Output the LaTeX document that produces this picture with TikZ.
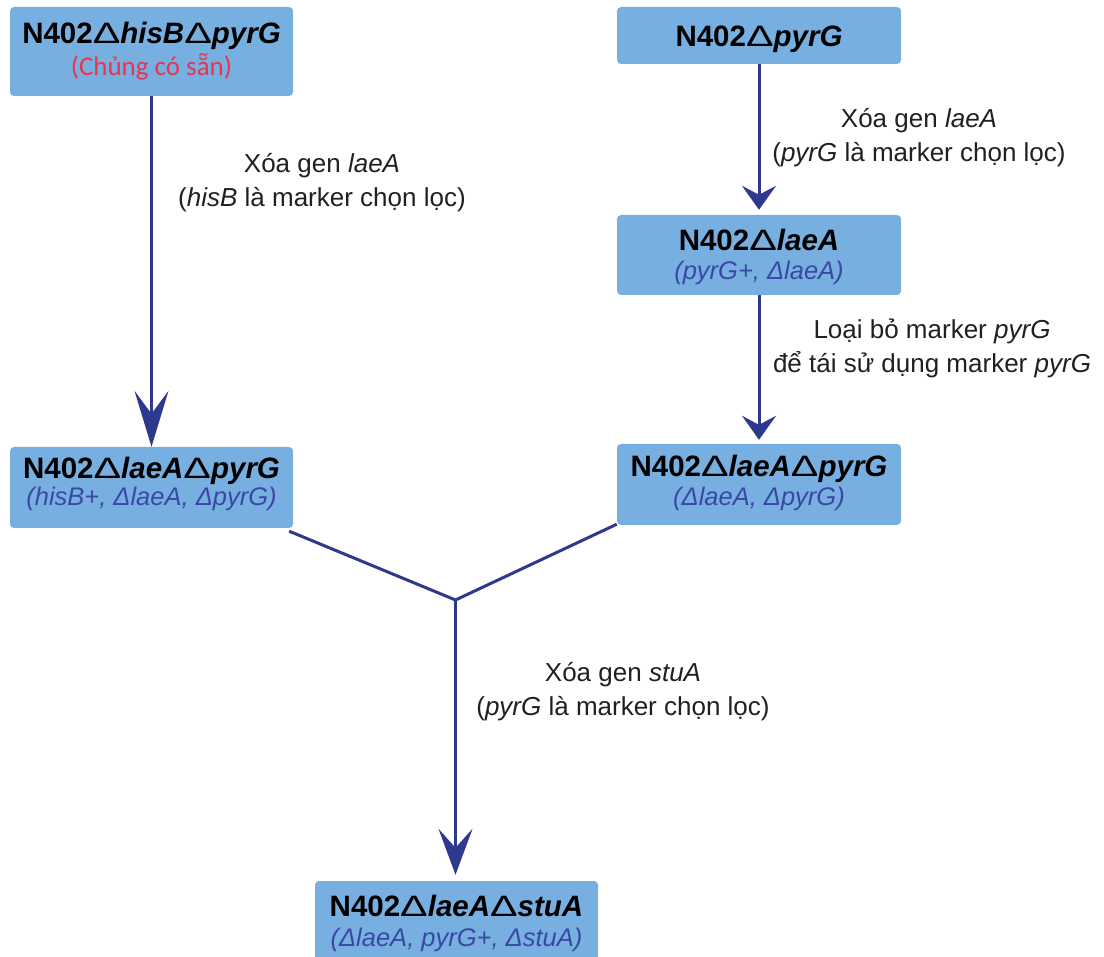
\documentclass[tikz,border=0pt]{standalone}
\usepackage{fontspec}
\usepackage{graphicx}
\setmainfont{Liberation Sans}
\newfontfamily\calfont{Carlito}
\usetikzlibrary{arrows.meta}
\definecolor{boxfill}{RGB}{120,175,225}
\definecolor{arrowblue}{RGB}{46,56,140}
\definecolor{subblue}{RGB}{58,72,165}
\definecolor{redtxt}{RGB}{232,52,78}
\definecolor{labeltxt}{RGB}{35,31,32}
\newcommand{\bigdelta}{{\mdseries\upshape\scalebox{1.4}[1]{Δ}}}
\begin{document}
\begin{tikzpicture}[x=1pt,y=-1pt,
  strainbox/.style={fill=boxfill, rounded corners=4pt, inner sep=0pt, draw=none},
  titletext/.style={font=\fontsize{29.5}{33}\selectfont\bfseries, anchor=base, inner sep=0pt, text=black},
  subtext/.style={font=\fontsize{25.5}{29}\selectfont\itshape, anchor=base, inner sep=0pt, text=subblue},
  redsub/.style={font=\fontsize{27}{30}\selectfont\calfont, anchor=base, inner sep=0pt, text=redtxt},
  steplabel/.style={font=\fontsize{26}{34}\selectfont, align=center, text=labeltxt, inner sep=0pt},
  conn/.style={draw=arrowblue, line width=3pt},
  bighead/.style={-{Stealth[length=56pt,width=34pt,inset=23pt]}},
  midhead/.style={-{Stealth[length=46pt,width=34pt,inset=19pt]}},
  smallhead/.style={-{Stealth[length=24pt,width=34pt,inset=9pt]}}
]
\useasboundingbox (0,0) rectangle (1104,957);
% boxes
\node[strainbox, minimum width=283pt, minimum height=89pt] (A) at (151.5,51.5) {};
\node[strainbox, minimum width=284pt, minimum height=57pt] (B) at (759,35.5) {};
\node[strainbox, minimum width=284pt, minimum height=80pt] (C) at (759,255) {};
\node[strainbox, minimum width=284pt, minimum height=81pt] (D) at (759,484.5) {};
\node[strainbox, minimum width=283pt, minimum height=81pt] (E) at (151.5,487.5) {};
\node[strainbox, minimum width=283pt, minimum height=80pt] (F) at (456.5,921) {};
% texts
\node[titletext] (At) at (151.5,44) {N402\bigdelta\textit{hisB}\bigdelta\textit{pyrG}};
\node[redsub] (As) at (151.5,76) {(Chủng có sẵn)};
\node[titletext] (Bt) at (759,47) {N402\bigdelta\textit{pyrG}};
\node[titletext] (Ct) at (759,251) {N402\bigdelta\textit{laeA}};
\node[subtext] (Cs) at (759,280) {(pyrG+, ΔlaeA)};
\node[titletext] (Dt) at (759,477) {N402\bigdelta\textit{laeA}\bigdelta\textit{pyrG}};
\node[subtext] (Ds) at (759,506) {(ΔlaeA, ΔpyrG)};
\node[titletext] (Et) at (151.5,479) {N402\bigdelta\textit{laeA}\bigdelta\textit{pyrG}};
\node[subtext] (Es) at (151.5,506) {(hisB+, ΔlaeA, ΔpyrG)};
\node[titletext] (Ft) at (456.5,916) {N402\bigdelta\textit{laeA}\bigdelta\textit{stuA}};
\node[subtext] (Fs) at (456.5,946) {(ΔlaeA, pyrG+, ΔstuA)};
% step labels
\node[steplabel] (L1) at (322,183) {Xóa gen \textit{laeA}\\(\textit{hisB} là marker chọn lọc)};
\node[steplabel] (L2) at (919,138) {Xóa gen \textit{laeA}\\(\textit{pyrG} là marker chọn lọc)};
\node[steplabel] (L3) at (932,348) {Loại bỏ marker \textit{pyrG}\\để tái sử dụng marker \textit{pyrG}};
\node[steplabel] (L4) at (623,692) {Xóa gen \textit{stuA}\\(\textit{pyrG} là marker chọn lọc)};
% connectors
\coordinate (J) at (455.5,600);
\draw[conn, bighead] (A.south) -- (E.north);
\draw[conn, smallhead, shorten >=5pt] (B.south) -- (C.north);
\draw[conn, smallhead, shorten >=4pt] (C.south) -- (D.north);
\draw[conn] ([xshift=-4pt,yshift=-3pt]E.south east) -- (J);
\draw[conn] ([yshift=1pt]D.south west) -- (J);
\draw[conn, midhead, shorten >=6pt] (J) -- (J |- F.north);
\end{tikzpicture}
\end{document}
